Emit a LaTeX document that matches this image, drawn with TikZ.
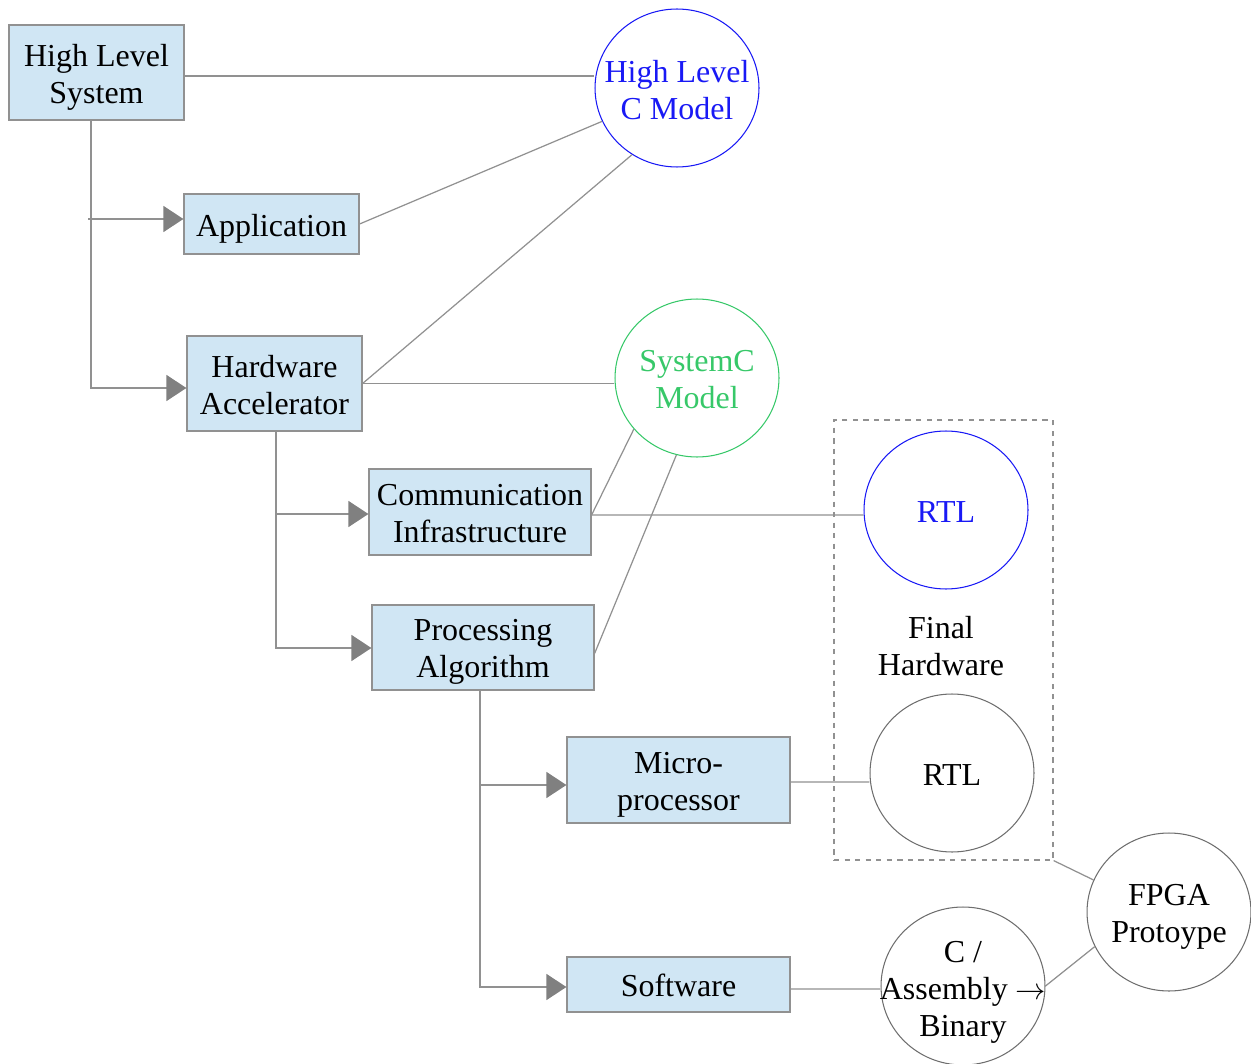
\documentclass[tikz,border=0pt]{standalone}
\usepackage{fontspec}
\setmainfont{Liberation Serif}
\newfontfamily\diagramfont{Liberation Serif}
\usetikzlibrary{arrows.meta,shapes.geometric}
\definecolor{boxfill}{RGB}{208,230,244}
\definecolor{edge}{RGB}{145,145,145}
\definecolor{tipgray}{RGB}{128,128,128}
\definecolor{cblue}{RGB}{25,25,245}
\definecolor{cgreen}{RGB}{55,200,105}
\definecolor{ringgray}{RGB}{110,110,110}

\begin{document}
\begin{tikzpicture}[x=0.02cm,y=-0.02cm,
  every node/.style={font=\diagramfont\fontsize{18.2}{21}\selectfont},
  blk/.style={draw=edge, fill=boxfill, line width=0.7pt, inner sep=0pt},
  bubble/.style={ellipse, draw=#1, line width=0.6pt, minimum width=3.28cm,
                 minimum height=3.16cm, inner sep=0pt},
  txt/.style={align=center, inner sep=0pt},
  conn/.style={draw=edge, line width=0.7pt},
  arr/.style={conn, -{Triangle[length=0.4cm,width=0.52cm,color=tipgray]}},
]
\useasboundingbox (0,0) rectangle (1251,1064);

% blocks of the hierarchy
\node[blk, minimum width=3.5cm,  minimum height=1.9cm]  (hls) at (96.5,72.5)  {};
\node[blk, minimum width=3.5cm,  minimum height=1.2cm]  (app) at (271.5,224)  {};
\node[blk, minimum width=3.5cm,  minimum height=1.9cm]  (ha)  at (274.5,383.5) {};
\node[blk, minimum width=4.44cm, minimum height=1.72cm] (ci)  at (480,512)    {};
\node[blk, minimum width=4.44cm, minimum height=1.7cm]  (pa)  at (483,647.5)  {};
\node[blk, minimum width=4.46cm, minimum height=1.72cm] (mp)  at (678.5,780)  {};
\node[blk, minimum width=4.46cm, minimum height=1.1cm]  (sw)  at (678.5,984.5) {};

% their captions
\node[txt] (hlst) at (96.5,77.5)  {High Level\\System};
\node[txt] (appt) at (271.5,229)  {Application};
\node[txt] (hat)  at (274.5,385.5) {Hardware\\Accelerator};
\node[txt] (cit)  at (480,514)    {Communication\\Infrastructure};
\node[txt] (pat)  at (483,652)    {Processing\\Algorithm};
\node[txt] (mpt)  at (678.5,784.5) {Micro-\\processor};
\node[txt] (swt)  at (678.5,985.5) {Software};

% final hardware group
\node[draw=edge, dashed, line width=0.7pt, minimum width=4.38cm, minimum height=8.8cm, inner sep=0pt]
  (fh) at (943.5,640) {};
\node[txt] (fhlab) at (941,646) {Final\\Hardware};

% models and products
\node[bubble=cblue]    (hlcm) at (677,88)   {};
\node[txt, text=cblue] (hlcmt) at (677,90) {High Level\\C Model};
\node[bubble=cgreen]   (sysc) at (697,378)  {};
\node[txt, text=cgreen] (sysct) at (697,380) {SystemC\\Model};
\node[bubble=cblue]    (rtla) at (946,510)  {};
\node[txt, text=cblue] (rtlat) at (946,512) {RTL};
\node[bubble=ringgray] (rtlb) at (952,773)  {};
\node[txt] (rtlbt) at (952,775) {RTL};
\node[bubble=ringgray] (fpga) at (1169,912) {};
\node[txt] (fpgat) at (1169,917) {FPGA\\Protoype};
\node[bubble=ringgray] (cab)  at (963,986)  {};
\node[txt] (cabt) at (963,992) {C /\\Assembly $\rightarrow$\\Binary};

% tree junctions
\coordinate (j0) at (88,219);
\coordinate (j1) at (91,388);
\coordinate (j2) at (276,514);
\coordinate (j3) at (276,648);
\coordinate (j4) at (480,785);
\coordinate (j5) at (480,987);

% hierarchy arrows
\draw[arr] (hls.south -| j1) -- (j1) -- (ha.west |- j1);
\draw[arr] (j0) -- (app.west |- j0);
\draw[arr] (ha.south -| j3) -- (j3) -- (pa.west |- j3);
\draw[arr] (j2) -- (ci.west |- j2);
\draw[arr] (pa.south -| j5) -- (j5) -- (sw.west |- j5);
\draw[arr] (j4) -- (mp.west |- j4);

% links to models
\draw[conn] (hls.east |- 0,76) -- (hlcm.west |- 0,76);
\draw[conn] (app.east) -- (hlcm.204);
\draw[conn] (ha.east) -- (hlcm.236);
\draw[conn] (ha.east) -- (sysc.west |- ha.east);
\draw[conn] ([yshift=-0.06cm]ci.east) -- (sysc.219);
\draw[conn] ([yshift=-0.06cm]ci.east) -- (rtla.west |- 0,515);
\draw[conn] ([yshift=-0.12cm]pa.east) -- (sysc.255);
\draw[conn] ([yshift=-0.04cm]mp.east) -- (rtlb.west |- 0,782);
\draw[conn] ([yshift=-0.09cm]sw.east) -- (cab.west |- 0,989);
\draw[conn] (fh.south east) -- (fpga.157);
\draw[conn] (cab.east) -- (fpga.205);
\end{tikzpicture}
\end{document}
